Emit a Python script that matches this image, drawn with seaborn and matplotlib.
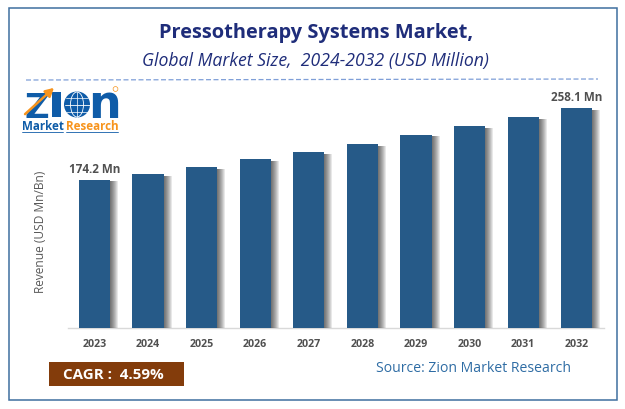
import pandas as pd
import numpy as np
import matplotlib
matplotlib.use('Agg')
import matplotlib.pyplot as plt
import matplotlib.patheffects as pe
from matplotlib.patches import Circle, Ellipse, Rectangle
import seaborn as sns

# values
years = ['2023', '2024', '2025', '2026', '2027', '2028', '2029', '2030', '2031', '2032']
revenue = [174.2, 180.8, 189.0, 198.0, 206.5, 216.0, 227.0, 237.5, 248.0, 258.1]
label_years = {'2023': '174.2 Mn', '2032': '258.1 Mn'}

W, H = 625, 410
BLUE = '#265a88'
NAVY = '#1f2d7a'
GREY = '#505050'

sns.set_theme(style='white')
plt.rcParams['font.family'] = ['Open Sans', 'DejaVu Sans']

df = pd.DataFrame({'year': years, 'revenue': revenue})

fig = plt.figure(figsize=(W / 100, H / 100), dpi=100, facecolor='white')

# plot area, baseline at y=328
ax = fig.add_axes([67.6 / W, 1 - 329 / H, 536 / W, 238 / H])
sns.barplot(data=df, x='year', y='revenue', color=BLUE, saturation=1, width=0.58, linewidth=0, ax=ax, zorder=3)
ax.set_ylim(0, 238 / 0.8523)
ax.set_xlim(-0.5, 9.5)
ax.patch.set_alpha(0)

# soft shadow to the right of the bars, offsets are in points
shadow = [pe.SimplePatchShadow(offset=(0.72 * d, -1.4), shadow_rgbFace='black', alpha=0.09)
          for d in (8, 7, 6, 5, 4, 3, 2, 1)]
for bar in ax.patches:
    bar.set_path_effects(shadow + [pe.Normal()])

for i, (yr, val) in enumerate(zip(years, revenue)):
    if yr in label_years:
        ax.text(i, val + 5.5, label_years[yr], ha='center', va='bottom', fontsize=8.4,
                fontweight='bold', color=GREY)

sns.despine(ax=ax, left=True)
ax.spines['bottom'].set_color('#d9d9d9')
ax.spines['bottom'].set_linewidth(1)
ax.set_yticks([])
ax.tick_params(axis='x', length=0, pad=7)
for t in ax.get_xticklabels():
    t.set_fontsize(7.7)
    t.set_fontweight('bold')
    t.set_color(GREY)
ax.set_xlabel('')
ax.set_ylabel('')

# overlay in pixel coordinates for frame, titles and logo
ov = fig.add_axes([0, 0, 1, 1], zorder=5)
ov.set_xlim(0, W)
ov.set_ylim(H, 0)
ov.axis('off')

ov.add_patch(Rectangle((8.5, 8.5), 608.5, 392.5, fill=False, ec='#3f6f9f', lw=1.1))
ov.plot([26, 598], [81, 80], color='#7f9fd8', lw=0.9, dashes=(4, 2))

ov.text(316.5, 33, 'Pressotherapy Systems Market,', ha='center', va='center', fontsize=14.4,
        fontweight='bold', color=NAVY)
ov.text(315, 61, 'Global Market Size,  2024-2032 (USD Million)', ha='center', va='center', fontsize=12.7,
        fontstyle='italic', color=NAVY)
ov.text(40, 232, 'Revenue (USD Mn/Bn)', rotation=90, ha='center', va='center', fontsize=8.6, color='#595959')

ov.add_patch(Rectangle((49, 363), 135, 24, fc='#833c0b', ec='none'))
ov.text(63, 375, 'CAGR :  4.59%', ha='left', va='center', fontsize=10.9, fontweight='bold', color='white')
ov.text(473.5, 369, 'Source: Zion Market Research', ha='center', va='center', fontsize=10.1, color='#2e6ca4')

# logo
LOGO = '#0f5ca8'
ORANGE = '#f7941d'
ov.text(37, 118, 'Z', ha='center', va='baseline', fontsize=24.5, fontweight='bold', color=LOGO,
        family='DejaVu Sans')
ov.add_patch(Rectangle((52, 93), 9, 25, fc=LOGO, ec='none'))
ov.add_patch(Circle((77, 105.5), 13, fc=LOGO, ec='none'))
ov.add_patch(Ellipse((77, 105.5), 13, 25, fc='none', ec='white', lw=0.6))
ov.plot([64.5, 89.5], [105.5, 105.5], color='white', lw=0.6)
ov.plot([66, 88], [98.5, 98.5], color='white', lw=0.5)
ov.plot([66, 88], [112.5, 112.5], color='white', lw=0.5)
ov.plot([77, 77], [93, 118], color='white', lw=0.5)
ov.text(104.5, 118, 'n', ha='center', va='baseline', fontsize=33, fontweight='bold', color=LOGO,
        family=['Liberation Sans Narrow', 'DejaVu Sans'])
ov.annotate('', xy=(56, 87), xytext=(23, 117),
            arrowprops=dict(arrowstyle='-|>,head_width=0.22,head_length=0.4', color=ORANGE, lw=1.8))
ov.text(22, 127, 'Market', ha='left', va='center', fontsize=8.4, fontweight='bold', color=LOGO)
ov.text(66, 127, 'Research', ha='left', va='center', fontsize=8.4, fontweight='bold', color=ORANGE)
ov.plot([22, 63], [132.5, 132.5], color=LOGO, lw=0.6)
ov.plot([66, 118], [132.5, 132.5], color=LOGO, lw=0.6)
ov.add_patch(Circle((115.5, 90), 2.4, fc='none', ec=ORANGE, lw=0.5))

fig.savefig('out.png', dpi=100)
plt.close(fig)
